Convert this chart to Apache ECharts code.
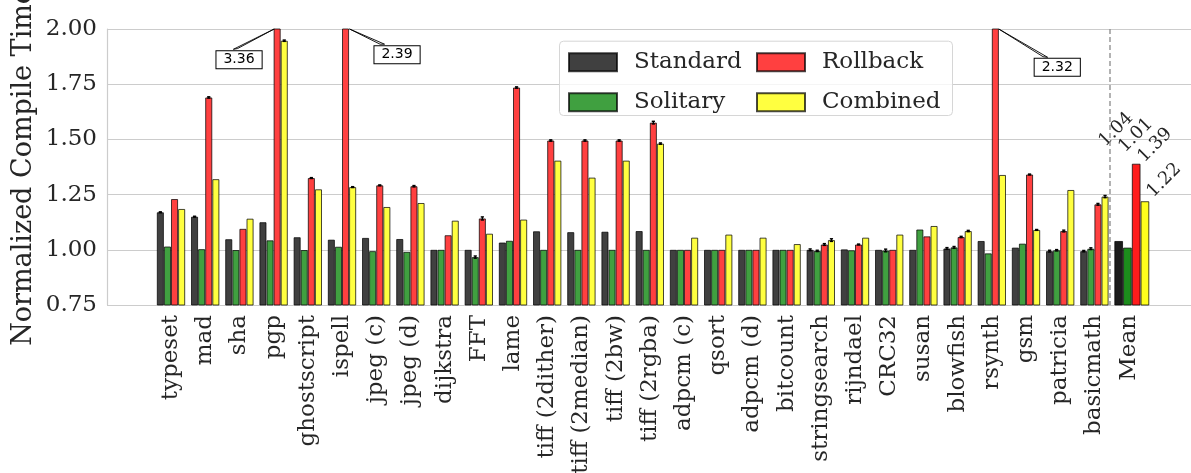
<!DOCTYPE html>
<html>
<head>
<meta charset="utf-8">
<script src="https://cdn.jsdelivr.net/npm/echarts@6/dist/echarts.min.js"></script>
<style>
  html, body { margin: 0; padding: 0; background: #fff; }
  #chart { width: 1191px; height: 473px; }
</style>
</head>
<body>
<div id="chart"></div>
<script>
// Benchmarks (x-axis order)
const benchmarks = ['typeset', 'mad', 'sha', 'pgp', 'ghostscript', 'ispell', 'jpeg (c)', 'jpeg (d)',
  'dijkstra', 'FFT', 'lame', 'tiff (2dither)', 'tiff (2median)', 'tiff (2bw)', 'tiff (2rgba)',
  'adpcm (c)', 'qsort', 'adpcm (d)', 'bitcount', 'stringsearch', 'rijndael', 'CRC32', 'susan',
  'blowfish', 'rsynth', 'gsm', 'patricia', 'basicmath'];
const meanLabel = 'Mean';

// Normalized compile time per benchmark
const standard  = [1.170, 1.150, 1.048, 1.125, 1.057, 1.046, 1.054, 1.049, 1.000, 1.000, 1.033, 1.084, 1.080, 1.082,
  1.085, 1.000, 1.000, 1.000, 1.000, 1.000, 1.002, 1.000, 1.000, 1.006, 1.040, 1.010, 0.994, 0.994];
const solitary  = [1.015, 1.003, 0.999, 1.043, 0.999, 1.014, 0.994, 0.991, 1.000, 0.967, 1.041, 1.000, 1.000, 1.000,
  1.000, 1.000, 1.000, 1.000, 1.000, 0.995, 0.998, 0.997, 1.092, 1.011, 0.984, 1.028, 0.998, 1.005];
const rollback  = [1.230, 1.690, 1.095, 3.360, 1.325, 2.390, 1.292, 1.288, 1.066, 1.142, 1.735, 1.495, 1.495, 1.495,
  1.576, 1.000, 1.000, 1.000, 1.000, 1.024, 1.024, 1.000, 1.061, 1.058, 2.320, 1.341, 1.085, 1.206];
const combined  = [1.185, 1.320, 1.141, 1.947, 1.274, 1.284, 1.194, 1.212, 1.132, 1.073, 1.137, 1.404, 1.327, 1.404,
  1.481, 1.055, 1.069, 1.055, 1.026, 1.044, 1.055, 1.069, 1.108, 1.085, 1.339, 1.090, 1.271, 1.241];

// Measurement spread (error bar half-height)
const standardErr = [0.002, 0.002, 0, 0, 0, 0, 0, 0, 0, 0, 0, 0, 0, 0,
  0, 0, 0, 0, 0, 0.004, 0, 0, 0, 0.004, 0, 0, 0.004, 0.003];
const solitaryErr = [0, 0, 0, 0, 0, 0, 0, 0, 0, 0.005, 0, 0, 0, 0,
  0, 0, 0, 0, 0, 0.003, 0, 0.006, 0, 0.004, 0, 0, 0.003, 0.004];
const rollbackErr = [0, 0.003, 0, 0, 0.002, 0, 0.002, 0.003, 0, 0.007, 0.003, 0.003, 0.003, 0.003,
  0.006, 0, 0, 0, 0, 0.004, 0.002, 0, 0, 0.003, 0, 0.002, 0.004, 0.004];
const combinedErr = [0, 0, 0, 0.003, 0, 0.002, 0, 0, 0, 0, 0, 0, 0, 0,
  0.003, 0, 0, 0, 0, 0.006, 0, 0, 0, 0.003, 0, 0.002, 0, 0.005];

// Geometric mean over all benchmarks
const meanValues = [1.04, 1.01, 1.39, 1.22];

const seriesNames = ['Standard', 'Solitary', 'Rollback', 'Combined'];
const yTicks = [0.75, 1.00, 1.25, 1.50, 1.75, 2.00];

// ---- styling / layout ----
const Y_MIN = yTicks[0], Y_MAX = yTicks[yTicks.length - 1], Y_STEP = 0.25;
const FONT = 'DejaVu Serif';
const TEXT = '#262626';
const BAR_W = 7.1, MEAN_BAR_W = 8.75;
const PLOT_TOP = 29, PLOT_BOTTOM = 168;
const colors = ['#404040', '#40a040', '#ff4040', '#ffff40'];
const meanColors = ['#1c1c1c', '#1c8c1c', '#ff1c1c', '#ffff1c'];
const EDGE = 'rgba(0,0,0,0.72)';
// Mean value labels: offset of the rotated text centre from the bar's top-left corner
const meanLabelPos = [[1.7, -111.4], [12.7, -112.3], [23.2, -18.4], [23.5, -20.9]];
// Call-outs for clipped bars: box centre / wedge tip / wedge base, relative to the bar top
const calloutLayout = {
  'pgp':    { dx: -38.1, dy: 30.7, tip: -3, base: [[-43.8, 20.3], [-39.5, 19.5]] },
  'ispell': { dx: 51.5, dy: 25.7, tip: 4, base: [[34.5, 15.2], [39.0, 15.2]] },
  'rsynth': { dx: 61.9, dy: 38.3, tip: 3.4, base: [[47.7, 27.7], [52.3, 28.3]] }
};
const DIVIDER_FRAC = 0.456;

const categories = benchmarks.concat([meanLabel]);
const seriesData = [standard, solitary, rollback, combined];
const seriesErr = [standardErr, solitaryErr, rollbackErr, combinedErr];

const chart = echarts.init(document.getElementById('chart'), null, { renderer: 'canvas' });

const barSeries = seriesNames.map((name, k) => ({
  name: name,
  type: 'bar',
  xAxisIndex: 1, yAxisIndex: 1,
  data: seriesData[k].concat(['-']),
  barWidth: BAR_W,
  barGap: '0%',
  itemStyle: { color: colors[k], borderColor: EDGE, borderWidth: 1 },
  emphasis: { disabled: true },
  z: 2
}));

const meanSeries = seriesNames.map((name, k) => ({
  name: name,
  type: 'bar',
  xAxisIndex: 2, yAxisIndex: 2,
  data: [meanValues[k]],
  barWidth: MEAN_BAR_W,
  barGap: '0%',
  itemStyle: { color: meanColors[k], borderColor: EDGE, borderWidth: 1 },
  emphasis: { disabled: true },
  label: {
    show: true,
    formatter: p => p.value.toFixed(2),
    position: meanLabelPos[k],
    align: 'center', verticalAlign: 'middle',
    rotate: 45,
    fontFamily: FONT, fontSize: 18, color: TEXT
  },
  z: 2
}));

// error bars
const errData = [];
seriesData.forEach((arr, k) => arr.forEach((v, i) => {
  if (seriesErr[k][i] > 0) errData.push([i, v, seriesErr[k][i], k]);
}));
const errorSeries = {
  type: 'custom',
  xAxisIndex: 1, yAxisIndex: 1,
  data: errData,
  silent: true,
  z: 3,
  renderItem(params, api) {
    const i = api.value(0), v = api.value(1), e = api.value(2), k = api.value(3);
    const x = api.coord([i, v])[0] + (k - 1.5) * BAR_W;
    const y1 = api.coord([i, v - e])[1], y2 = api.coord([i, v + e])[1];
    const st = { stroke: '#000', lineWidth: 1.4 };
    return { type: 'group', children: [
      { type: 'line', shape: { x1: x, y1: y1, x2: x, y2: y2 }, style: st },
      { type: 'line', shape: { x1: x - 1.6, y1: y1, x2: x + 1.6, y2: y1 }, style: st },
      { type: 'line', shape: { x1: x - 1.6, y1: y2, x2: x + 1.6, y2: y2 }, style: st }
    ] };
  }
};

// call-outs for bars that exceed the axis range
const calloutData = [];
rollback.forEach((v, i) => { if (v > Y_MAX) calloutData.push([i, v]); });
const calloutSeries = {
  type: 'custom',
  xAxisIndex: 1, yAxisIndex: 1,
  data: calloutData,
  silent: true,
  z: 6,
  clip: false,
  renderItem(params, api) {
    const i = api.value(0), v = api.value(1);
    const lay = calloutLayout[benchmarks[i]];
    const top = api.coord([i, Math.min(v, Y_MAX)]);
    const bx = top[0] + (2 - 1.5) * BAR_W, by = top[1];
    return { type: 'group', children: [
      { type: 'polygon', shape: { points: [[bx + lay.tip, by], [bx + lay.base[0][0], by + lay.base[0][1]], [bx + lay.base[1][0], by + lay.base[1][1]]] },
        style: { fill: '#fff', stroke: '#000', lineWidth: 0.9 } },
      { type: 'text', x: bx + lay.dx, y: by + lay.dy,
        style: { text: v.toFixed(2), fontFamily: 'DejaVu Sans', fontSize: 14, fill: '#000',
          align: 'center', verticalAlign: 'middle', backgroundColor: '#fff',
          borderColor: '#000', borderWidth: 1, padding: [2, 7, 1, 7] } }
    ] };
  }
};

// dashed separator before the Mean group
const dividerSeries = {
  type: 'custom',
  xAxisIndex: 1, yAxisIndex: 1,
  data: [[benchmarks.length - 1, Y_MIN]],
  silent: true,
  z: 4,
  renderItem(params, api) {
    const i = api.value(0);
    const band = api.size([1, 0])[0];
    const x = api.coord([i, Y_MAX])[0] + DIVIDER_FRAC * band;
    return { type: 'line', shape: { x1: x, y1: api.coord([i, Y_MAX])[1], x2: x, y2: api.coord([i, Y_MIN])[1] },
      style: { stroke: '#8a8a8a', lineWidth: 1.3, lineDash: [5, 3] } };
  }
};

const yHidden = { type: 'value', min: Y_MIN, max: Y_MAX, interval: Y_STEP, show: false };
const legendText = { fontFamily: FONT, fontSize: 23, color: TEXT, padding: [0, 0, 0, 12] };
const gridBase = { top: PLOT_TOP, bottom: PLOT_BOTTOM, containLabel: false, outerBoundsMode: 'none' };

chart.setOption({
  animation: false,
  backgroundColor: '#fff',
  grid: [
    Object.assign({ left: 107, right: 0 }, gridBase),
    Object.assign({ left: 153.9, right: 45.3 }, gridBase),
    Object.assign({ left: 1106.8, right: 34.2 }, gridBase)
  ],
  xAxis: [
    { gridIndex: 0, type: 'value', min: 0, max: 1, show: false },
    { gridIndex: 1, type: 'category', data: categories,
      axisLine: { show: false }, axisTick: { show: false },
      axisLabel: { interval: 0, rotate: 90, margin: 10, fontFamily: FONT, fontSize: 23, color: TEXT } },
    { gridIndex: 2, type: 'category', data: [meanLabel], show: false }
  ],
  yAxis: [
    { gridIndex: 0, type: 'value', min: Y_MIN, max: Y_MAX, interval: Y_STEP,
      name: 'Normalized Compile Time', nameLocation: 'middle', nameRotate: 90, nameGap: 70,
      nameMoveOverlap: false,
      nameTextStyle: { fontFamily: FONT, fontSize: 27, color: TEXT },
      axisLine: { show: true, lineStyle: { color: '#cccccc', width: 1.2 } },
      axisTick: { show: false },
      splitLine: { show: true, lineStyle: { color: '#cccccc', width: 1.2 } },
      axisLabel: { margin: 10, formatter: v => v.toFixed(2), fontFamily: FONT, fontSize: 23, color: TEXT } },
    Object.assign({ gridIndex: 1 }, yHidden),
    Object.assign({ gridIndex: 2 }, yHidden)
  ],
  legend: [
    { data: ['Standard', 'Solitary'], orient: 'vertical', left: 568, top: 50.7, padding: 0, icon: 'rect',
      itemWidth: 48, itemHeight: 18, itemGap: 17, selectedMode: false, textStyle: legendText },
    { data: ['Rollback', 'Combined'], orient: 'vertical', left: 756, top: 50.7, padding: 0, icon: 'rect',
      itemWidth: 48, itemHeight: 18, itemGap: 17, selectedMode: false, textStyle: legendText }
  ],
  graphic: [
    { type: 'rect', left: 559, top: 40.7, z: 3,
      shape: { width: 393, height: 74.3, r: 4 },
      style: { fill: 'rgba(255,255,255,0.8)', stroke: '#d6d6d6', lineWidth: 1 } }
  ],
  series: barSeries.concat(meanSeries, [errorSeries, calloutSeries, dividerSeries])
});
</script>
</body>
</html>
